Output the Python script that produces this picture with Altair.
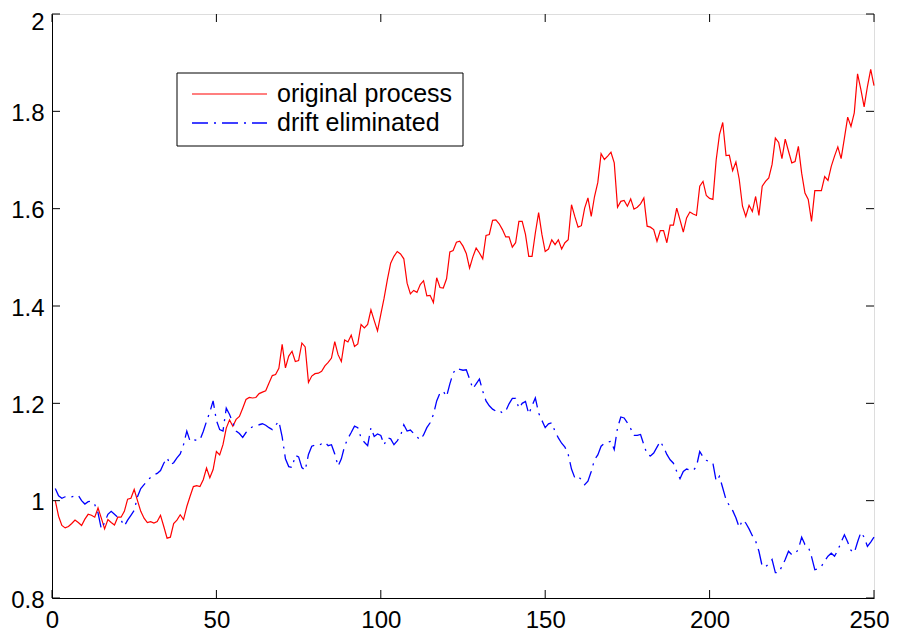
import altair as alt
import pandas as pd

# ---- data ----
steps = list(range(1, 251))

original_process = [
    1.000, 0.968, 0.949, 0.944, 0.947, 0.953, 0.960, 0.955, 0.949, 0.962,
    0.972, 0.970, 0.966, 0.985, 0.964, 0.942, 0.961, 0.955, 0.950, 0.966,
    0.966, 0.978, 1.003, 1.005, 1.023, 1.000, 0.978, 0.964, 0.955, 0.957,
    0.954, 0.957, 0.970, 0.947, 0.923, 0.925, 0.953, 0.960, 0.971, 0.961,
    0.988, 1.009, 1.029, 1.031, 1.029, 1.043, 1.067, 1.047, 1.064, 1.101,
    1.094, 1.115, 1.149, 1.166, 1.153, 1.167, 1.173, 1.190, 1.208, 1.212,
    1.211, 1.212, 1.220, 1.223, 1.226, 1.242, 1.257, 1.259, 1.272, 1.321,
    1.273, 1.297, 1.307, 1.286, 1.288, 1.324, 1.316, 1.243, 1.256, 1.261,
    1.262, 1.266, 1.277, 1.284, 1.293, 1.327, 1.300, 1.286, 1.330, 1.326,
    1.340, 1.317, 1.322, 1.362, 1.355, 1.362, 1.392, 1.370, 1.349, 1.383,
    1.416, 1.454, 1.488, 1.502, 1.512, 1.507, 1.497, 1.447, 1.425, 1.432,
    1.428, 1.444, 1.452, 1.421, 1.422, 1.407, 1.458, 1.438, 1.437, 1.456,
    1.511, 1.514, 1.531, 1.533, 1.523, 1.508, 1.478, 1.501, 1.519, 1.509,
    1.497, 1.545, 1.547, 1.576, 1.577, 1.569, 1.557, 1.542, 1.542, 1.521,
    1.530, 1.574, 1.574, 1.547, 1.502, 1.502, 1.550, 1.592, 1.547, 1.512,
    1.517, 1.536, 1.526, 1.536, 1.517, 1.530, 1.536, 1.608, 1.584, 1.562,
    1.565, 1.601, 1.622, 1.584, 1.625, 1.654, 1.713, 1.701, 1.708, 1.716,
    1.694, 1.603, 1.615, 1.617, 1.605, 1.620, 1.599, 1.603, 1.610, 1.622,
    1.564, 1.562, 1.557, 1.533, 1.555, 1.555, 1.530, 1.566, 1.566, 1.601,
    1.577, 1.552, 1.581, 1.593, 1.589, 1.586, 1.646, 1.656, 1.627, 1.621,
    1.619, 1.700, 1.752, 1.777, 1.709, 1.710, 1.678, 1.696, 1.661, 1.605,
    1.584, 1.607, 1.594, 1.625, 1.586, 1.646, 1.656, 1.663, 1.691, 1.745,
    1.736, 1.703, 1.743, 1.718, 1.694, 1.697, 1.728, 1.673, 1.632, 1.619,
    1.574, 1.637, 1.637, 1.637, 1.666, 1.658, 1.687, 1.708, 1.727, 1.703,
    1.745, 1.788, 1.769, 1.797, 1.877, 1.845, 1.809, 1.851, 1.886, 1.853,
]

drift_eliminated = [
    1.025, 1.010, 1.005, 1.008, 1.009, 1.008, 1.010, 1.011, 1.000, 0.993,
    0.998, 0.999, 0.992, 0.975, 0.942, 0.955, 0.972, 0.978, 0.972, 0.966,
    0.960, 0.948, 0.960, 0.970, 0.980, 1.008, 1.025, 1.033, 1.041, 1.048,
    1.053, 1.056, 1.062, 1.077, 1.088, 1.074, 1.078, 1.088, 1.096, 1.115,
    1.143, 1.122, 1.125, 1.124, 1.125, 1.142, 1.163, 1.182, 1.205, 1.165,
    1.146, 1.143, 1.190, 1.177, 1.160, 1.143, 1.138, 1.130, 1.140, 1.147,
    1.152, 1.155, 1.156, 1.158, 1.155, 1.150, 1.146, 1.155, 1.163, 1.131,
    1.086, 1.070, 1.068, 1.093, 1.090, 1.068, 1.062, 1.095, 1.112, 1.114,
    1.113, 1.117, 1.120, 1.113, 1.115, 1.096, 1.071, 1.086, 1.112, 1.128,
    1.140, 1.153, 1.150, 1.129, 1.120, 1.113, 1.150, 1.132, 1.137, 1.134,
    1.115, 1.129, 1.127, 1.115, 1.123, 1.133, 1.156, 1.143, 1.145, 1.138,
    1.131, 1.125, 1.135, 1.150, 1.160, 1.177, 1.205, 1.221, 1.225, 1.214,
    1.240, 1.262, 1.272, 1.270, 1.268, 1.269, 1.250, 1.230, 1.240, 1.250,
    1.225, 1.205, 1.195, 1.188, 1.184, 1.186, 1.180, 1.184, 1.199, 1.210,
    1.210, 1.190, 1.200, 1.204, 1.178, 1.195, 1.211, 1.180, 1.165, 1.150,
    1.158, 1.160, 1.142, 1.129, 1.118, 1.110, 1.095, 1.065, 1.047, 1.050,
    1.043, 1.033, 1.040, 1.060, 1.084, 1.094, 1.112, 1.118, 1.120, 1.122,
    1.105, 1.150, 1.172, 1.170, 1.160, 1.148, 1.134, 1.134, 1.136, 1.115,
    1.095, 1.092, 1.098, 1.110, 1.122, 1.110, 1.095, 1.084, 1.077, 1.060,
    1.045, 1.060, 1.065, 1.063, 1.062, 1.070, 1.101, 1.090, 1.083, 1.080,
    1.077, 1.040, 1.050, 1.026, 1.002, 0.990, 0.980, 0.965, 0.945, 0.960,
    0.954, 0.942, 0.928, 0.917, 0.896, 0.865, 0.864, 0.870, 0.879, 0.852,
    0.852, 0.865, 0.879, 0.896, 0.889, 0.891, 0.900, 0.925, 0.910, 0.906,
    0.885, 0.858, 0.860, 0.865, 0.876, 0.886, 0.892, 0.886, 0.898, 0.915,
    0.930, 0.915, 0.898, 0.893, 0.915, 0.935, 0.925, 0.906, 0.915, 0.925,
]

series_names = ["original process", "drift eliminated"]
series_colors = ["#ff0000", "#0000ff"]
x_ticks = [0, 50, 100, 150, 200, 250]
y_ticks = [0.8, 1.0, 1.2, 1.4, 1.6, 1.8, 2.0]

W, H = 822, 584
FONT = "Liberation Sans"
FS = 24
LEG_FS = 25
BLUE_DASH = [16, 6, 2, 6]

red_df = pd.DataFrame({"x": steps, "y": original_process})
blue_df = pd.DataFrame({"x": steps, "y": drift_eliminated})
xt_df = pd.DataFrame({"v": x_ticks})
yt_df = pd.DataFrame({"v": y_ticks})
leg_df = pd.DataFrame({"label": series_names})

xscale = alt.Scale(domain=[0, 250], nice=False, zero=False)
yscale = alt.Scale(domain=[0.8, 2.0], nice=False, zero=False)

x_axis = alt.Axis(values=x_ticks, format="d", title=None, grid=False, ticks=False,
                  labelFont=FONT, labelFontSize=FS, labelColor="black",
                  labelPadding=10, labelFlush=False, domainColor="black",
                  domainWidth=1,
                  labelOffset={"condition": {"test": "datum.value >= 250", "value": -5},
                               "value": 0})
y_axis = alt.Axis(values=y_ticks, format="~g", title=None, grid=False, ticks=False,
                  labelFont=FONT, labelFontSize=FS, labelColor="black",
                  labelPadding=8, labelFlush=False, domainColor="black",
                  domainWidth=1, labelBaseline="middle",
                  labelOffset={"condition": {"test": "datum.value >= 2", "value": 8},
                               "value": 2})

red = alt.Chart(red_df).mark_line(color=series_colors[0], strokeWidth=1.2).encode(
    x=alt.X("x:Q", scale=xscale, axis=x_axis),
    y=alt.Y("y:Q", scale=yscale, axis=y_axis),
)
blue = alt.Chart(blue_df).mark_line(color=series_colors[1], strokeWidth=1.3,
                                    strokeDash=BLUE_DASH).encode(
    x=alt.X("x:Q", scale=xscale),
    y=alt.Y("y:Q", scale=yscale),
)

TL = 8
xt_bottom = alt.Chart(xt_df).mark_rule(color="black", strokeWidth=1).encode(
    x=alt.X("v:Q", scale=xscale), y=alt.value(H), y2=alt.value(H - TL))
xt_top = alt.Chart(xt_df).mark_rule(color="black", strokeWidth=1).encode(
    x=alt.X("v:Q", scale=xscale), y=alt.value(0), y2=alt.value(TL))
yt_left = alt.Chart(yt_df).mark_rule(color="black", strokeWidth=1).encode(
    y=alt.Y("v:Q", scale=yscale), x=alt.value(0), x2=alt.value(TL))
yt_right = alt.Chart(yt_df).mark_rule(color="black", strokeWidth=1).encode(
    y=alt.Y("v:Q", scale=yscale), x=alt.value(W), x2=alt.value(W - TL))

# legend box
LX0, LX1, LY0, LY1 = 125, 411, 59, 132
ROW1, ROW2 = 80, 109
legend_box = alt.Chart(leg_df.head(1)).mark_rect(
    fill="white", stroke="black", strokeWidth=1).encode(
    x=alt.value(LX0), x2=alt.value(LX1), y=alt.value(LY0), y2=alt.value(LY1))
leg_red = alt.Chart(leg_df.head(1)).mark_rule(color=series_colors[0], strokeWidth=1.2).encode(
    x=alt.value(140), x2=alt.value(215), y=alt.value(ROW1))
leg_blue = alt.Chart(leg_df.tail(1)).mark_rule(color=series_colors[1], strokeWidth=1.3,
                                               strokeDash=BLUE_DASH).encode(
    x=alt.value(140), x2=alt.value(215), y=alt.value(ROW2))
leg_t1 = alt.Chart(leg_df.head(1)).mark_text(
    align="left", baseline="middle", font=FONT, fontSize=LEG_FS, color="black").encode(
    x=alt.value(225), y=alt.value(ROW1), text="label:N")
leg_t2 = alt.Chart(leg_df.tail(1)).mark_text(
    align="left", baseline="middle", font=FONT, fontSize=LEG_FS, color="black").encode(
    x=alt.value(225), y=alt.value(ROW2), text="label:N")

chart = alt.layer(
    red, blue, xt_bottom, xt_top, yt_left, yt_right,
    legend_box, leg_red, leg_blue, leg_t1, leg_t2,
).properties(
    width=W, height=H,
    autosize=alt.AutoSizeParams(type="none"),
    padding={"left": 44, "top": 6, "right": 15, "bottom": 33},
).configure_view(
    stroke="black", strokeWidth=1
).configure(background="white")

chart.save("out.html", embed_options={"renderer": "svg", "actions": False})
